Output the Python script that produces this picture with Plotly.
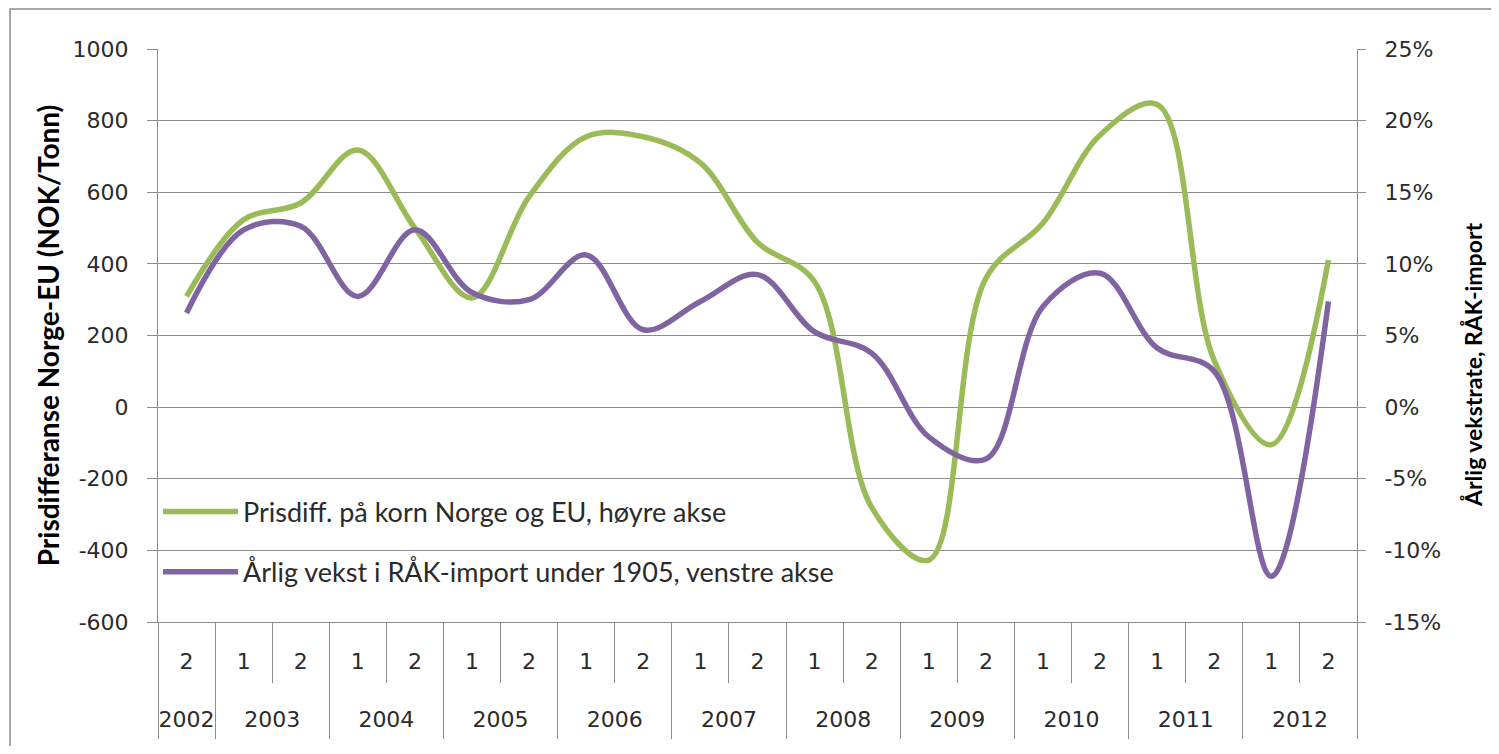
import plotly.graph_objects as go

# half-year categories
years = ["2002"] + [str(y) for y in range(2003, 2013) for _ in (1, 2)]
halves = ["2"] + ["1", "2"] * 10
periods = [f"{y}-{h}" for y, h in zip(years, halves)]

prisdiff = [309, 523, 570, 718, 500, 305, 588, 755, 755, 682, 460, 350,
            -280, -427, 360, 514, 760, 845, 130, -105, 411]
vekst = [263, 495, 505, 309, 495, 320, 300, 425, 216, 295, 370, 210,
         151, -83, -145, 281, 374, 165, 100, -472, 295]

left_ticks = [-600, -400, -200, 0, 200, 400, 600, 800, 1000]
left_labels = ["-600", "-400", "-200", "0", "200", "400", "600", "800", "1000"]
right_ticks = [-0.15, -0.10, -0.05, 0, 0.05, 0.10, 0.15, 0.20, 0.25]
right_labels = ["-15%", "-10%", "-5%", "0%", "5%", "10%", "15%", "20%", "25%"]

# positions on the category index scale for the two-row axis table
year_names = list(dict.fromkeys(years))
year_idx = [[i for i, y in enumerate(years) if y == yr] for yr in year_names]
year_centers = [sum(ix) / len(ix) for ix in year_idx]
year_bounds = [ix[0] - 0.5 for ix in year_idx] + [year_idx[-1][-1] + 0.5]
half_bounds = [i - 0.5 for i in range(len(periods) + 1)]
xr = [-0.5, len(periods) - 0.5]

GREEN = "#9bbb59"
PURPLE = "#8064a2"
GRID = "#8c8c8c"
TXT = "#2b2b2b"
tickfont = dict(family="DejaVu Sans", size=22, color=TXT)

fig = go.Figure()
fig.add_trace(go.Scatter(
    x=periods, y=prisdiff,
    name="Prisdiff. på korn Norge og EU, høyre akse",
    mode="lines", line=dict(color=GREEN, width=5.5, shape="spline", smoothing=1),
    legend="legend2",
))
fig.add_trace(go.Scatter(
    x=periods, y=vekst,
    name="Årlig vekst i RÅK-import under 1905, venstre akse",
    mode="lines", line=dict(color=PURPLE, width=5.5, shape="spline", smoothing=1),
    legend="legend3",
))
# empty helpers so the extra axes get drawn
fig.add_trace(go.Scatter(x=[], y=[], yaxis="y2", showlegend=False))
fig.add_trace(go.Scatter(x=[], y=[], xaxis="x2", showlegend=False))
fig.add_trace(go.Scatter(x=[], y=[], xaxis="x3", showlegend=False))

legfont = dict(family="Lato", size=27, color=TXT)
fig.update_layout(
    width=1483, height=738,
    margin=dict(l=150, r=134, t=41, b=124, autoexpand=False),
    paper_bgcolor="white", plot_bgcolor="white",
    xaxis=dict(
        type="category", range=xr, automargin=False,
        tickmode="array", tickvals=periods, ticktext=halves,
        showgrid=False, showline=True, linecolor=GRID, linewidth=1,
        ticks="", tickfont=tickfont, ticklabelstandoff=20,
    ),
    xaxis2=dict(
        overlaying="x", anchor="y", side="bottom", range=xr, automargin=False,
        tickmode="array", tickvals=year_centers, ticktext=year_names,
        showgrid=False, zeroline=False, showline=False, ticks="",
        tickfont=tickfont, ticklabelstandoff=82,
        minor=dict(tickmode="array", tickvals=year_bounds, ticks="outside",
                   ticklen=116, tickcolor=GRID, tickwidth=1, showgrid=False),
    ),
    xaxis3=dict(
        overlaying="x", anchor="y", side="bottom", range=xr, automargin=False,
        tickmode="array", tickvals=half_bounds, showticklabels=False,
        showgrid=False, zeroline=False, showline=False,
        ticks="outside", ticklen=60, tickcolor=GRID, tickwidth=1,
    ),
    yaxis=dict(
        range=[-600, 1000], tickvals=left_ticks, ticktext=left_labels,
        automargin=False,
        showgrid=True, gridcolor=GRID, gridwidth=1, zeroline=False,
        showline=True, linecolor=GRID, ticks="outside", ticklen=10,
        tickcolor=GRID, tickfont=tickfont, ticklabelstandoff=14,
        title=dict(text="Prisdifferanse Norge-EU (NOK/Tonn)",
                   font=dict(family="Lato", size=28, color="black", weight="bold"),
                   standoff=4),
    ),
    yaxis2=dict(
        overlaying="y", side="right", range=[-0.15, 0.25],
        tickvals=right_ticks, ticktext=right_labels, automargin=False,
        showgrid=False, zeroline=False,
        showline=True, linecolor=GRID, ticks="outside", ticklen=8,
        tickcolor=GRID, tickfont=tickfont, ticklabelstandoff=14,
    ),
    annotations=[dict(
        text="Årlig vekstrate, RÅK-import", textangle=-90,
        xref="paper", yref="paper", x=1.0967, y=0.4485,
        xanchor="center", yanchor="middle", showarrow=False,
        font=dict(family="Lato", size=23, color="black", weight="bold"),
    )],
    showlegend=True,
    legend=dict(visible=False),
    legend2=dict(x=0.0, y=0.192, xanchor="left", yanchor="middle",
                 font=legfont, bgcolor="rgba(0,0,0,0)", itemwidth=75),
    legend3=dict(x=0.0, y=0.087, xanchor="left", yanchor="middle",
                 font=legfont, bgcolor="rgba(0,0,0,0)", itemwidth=75),
    shapes=[dict(type="rect", xref="paper", yref="paper",
                 x0=-0.1234, x1=1.2, y0=-0.3, y1=1.0698,
                 line=dict(color="#8a8a8a", width=1.5), layer="below")],
    hovermode="closest",
)

fig.write_html("out.html")
